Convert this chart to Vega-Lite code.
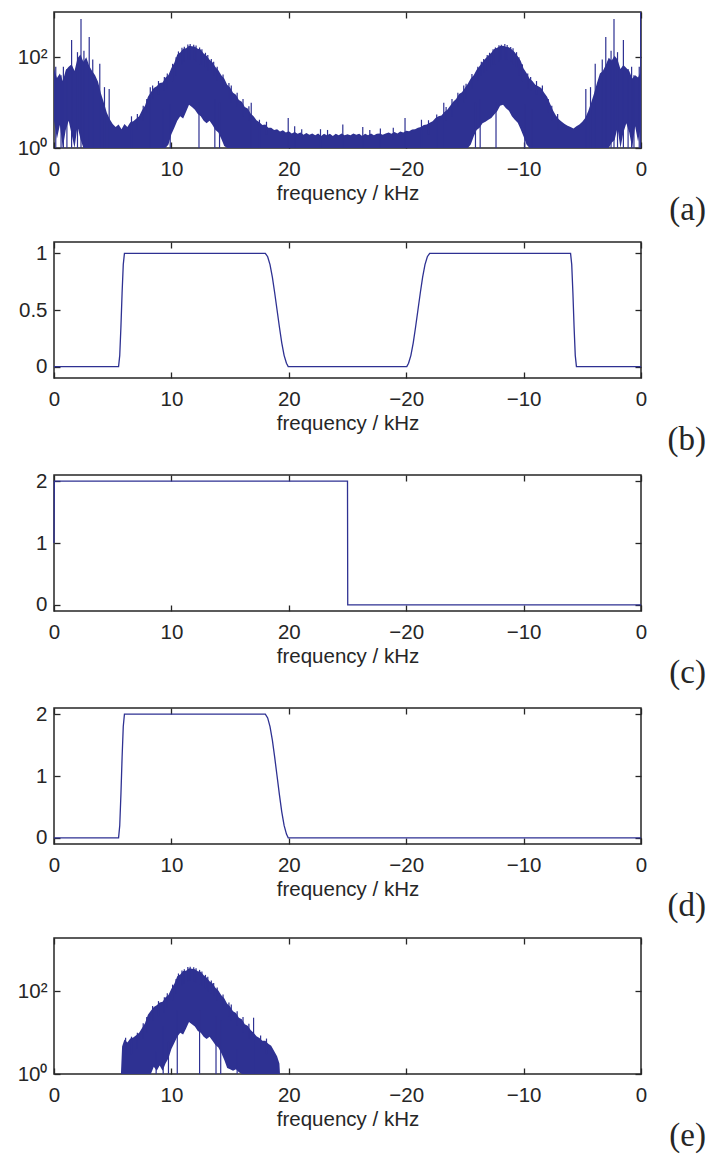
{
  "$schema": "https://vega.github.io/schema/vega-lite/v6.json",
  "padding": {"left": 16, "top": 10, "right": 4, "bottom": 4},
  "spacing": 12,
  "config": {
    "font": "Liberation Sans",
    "view": {"stroke": "#262626", "strokeWidth": 1.5},
    "axis": {"labelFont": "Liberation Sans", "labelFontSize": 20.5, "labelColor": "#262626", "titleFont": "Liberation Sans", "titleFontSize": 20.5, "titleFontWeight": "normal", "titleColor": "#262626", "tickColor": "#262626", "tickSize": -6, "tickWidth": 1.3, "domain": false, "grid": false, "labelPadding": 13},
    "axisX": {"labelPadding": 17, "titlePadding": 4, "labelFlush": false, "labelOverlap": false},
    "title": {"font": "Liberation Serif", "fontSize": 33, "fontWeight": "normal", "color": "#262626", "orient": "bottom", "anchor": "end", "frame": "group", "dx": 65, "offset": -10}
  },
  "datasets": {
    "specA": [
      {"f":0,"h":56,"l":4},{"f":0.25,"h":35,"l":1.6},{"f":0.5,"h":44,"l":3.2},{"f":0.75,"h":30,"l":1},{"f":1,"h":52,"l":2.5},{"f":1.25,"h":62,"l":4},{"f":1.5,"h":70,"l":2},{"f":1.75,"h":50,"l":1},{"f":2,"h":95,"l":3},{"f":2.25,"h":115,"l":1.6},{"f":2.5,"h":80,"l":1},{"f":2.75,"h":100,"l":1},{"f":3,"h":64,"l":1},{"f":3.25,"h":50,"l":1},{"f":3.5,"h":40,"l":1},{"f":3.75,"h":29,"l":1},{"f":4,"h":16,"l":1},{"f":4.25,"h":10,"l":1},{"f":4.5,"h":6,"l":1},{"f":4.75,"h":4.3,"l":1},
      {"f":5,"h":3.4,"l":1},{"f":5.25,"h":2.9,"l":1},{"f":5.5,"h":3.3,"l":1},{"f":5.75,"h":2.6,"l":1},{"f":6,"h":3.4,"l":1},{"f":6.25,"h":2.9,"l":1},{"f":6.5,"h":3.7,"l":1},{"f":6.75,"h":3.9,"l":1},{"f":7,"h":4.4,"l":1},{"f":7.25,"h":5,"l":1},{"f":7.5,"h":6.8,"l":1},{"f":7.75,"h":8.6,"l":1},{"f":8,"h":13.5,"l":1},{"f":8.25,"h":17,"l":1},{"f":8.5,"h":21,"l":1},{"f":8.75,"h":23,"l":1},{"f":9,"h":27,"l":1},{"f":9.25,"h":28,"l":1},{"f":9.5,"h":36,"l":1},{"f":9.75,"h":41,"l":1.2},
      {"f":10,"h":58,"l":2},{"f":10.25,"h":76,"l":2.8},{"f":10.5,"h":115,"l":4},{"f":10.75,"h":128,"l":5},{"f":11,"h":155,"l":4.5},{"f":11.25,"h":158,"l":6.3},{"f":11.5,"h":180,"l":9},{"f":11.75,"h":176,"l":8},{"f":12,"h":172,"l":7},{"f":12.25,"h":154,"l":5.6},{"f":12.5,"h":148,"l":5},{"f":12.75,"h":122,"l":4},{"f":13,"h":108,"l":3.5},{"f":13.25,"h":88,"l":4},{"f":13.5,"h":78,"l":3.2},{"f":13.75,"h":61,"l":2.5},{"f":14,"h":52,"l":2.2},{"f":14.25,"h":40,"l":1.6},{"f":14.5,"h":34,"l":1.1},{"f":14.75,"h":25,"l":1},
      {"f":15,"h":21.5,"l":1},{"f":15.25,"h":16.5,"l":1},{"f":15.5,"h":15,"l":1},{"f":15.75,"h":11.5,"l":1},{"f":16,"h":10.5,"l":1},{"f":16.25,"h":8,"l":1},{"f":16.5,"h":7.4,"l":1},{"f":16.75,"h":5.8,"l":1},{"f":17,"h":5,"l":1},{"f":17.25,"h":4.1,"l":1},{"f":17.5,"h":3.7,"l":1},{"f":17.75,"h":3.2,"l":1},{"f":18,"h":3.3,"l":1},{"f":18.25,"h":2.8,"l":1},{"f":18.5,"h":2.8,"l":1},{"f":18.75,"h":2.5,"l":1},{"f":19,"h":2.6,"l":1},{"f":19.25,"h":2.3,"l":1},{"f":19.5,"h":2.45,"l":1},{"f":19.75,"h":2.2,"l":1},
      {"f":20,"h":2.35,"l":1},{"f":20.25,"h":2.1,"l":1},{"f":20.5,"h":2.25,"l":1},{"f":20.75,"h":2.05,"l":1},{"f":21,"h":2.2,"l":1},{"f":21.25,"h":1.95,"l":1},{"f":21.5,"h":2.15,"l":1},{"f":21.75,"h":1.95,"l":1},{"f":22,"h":2.1,"l":1},{"f":22.25,"h":1.9,"l":1},{"f":22.5,"h":2.1,"l":1},{"f":22.75,"h":1.85,"l":1},{"f":23,"h":2.05,"l":1},{"f":23.25,"h":1.9,"l":1},{"f":23.5,"h":2.05,"l":1},{"f":23.75,"h":1.85,"l":1},{"f":24,"h":2.05,"l":1},{"f":24.25,"h":1.9,"l":1},{"f":24.5,"h":2.1,"l":1},{"f":24.75,"h":1.9,"l":1},
      {"f":25,"h":2,"l":1},{"f":25.25,"h":1.9,"l":1},{"f":25.5,"h":2.1,"l":1},{"f":25.75,"h":1.95,"l":1},{"f":26,"h":2.05,"l":1},{"f":26.25,"h":1.85,"l":1},{"f":26.5,"h":2.05,"l":1},{"f":26.75,"h":1.9,"l":1},{"f":27,"h":2.1,"l":1},{"f":27.25,"h":1.9,"l":1},{"f":27.5,"h":2.05,"l":1},{"f":27.75,"h":2.1,"l":1},{"f":28,"h":1.95,"l":1},{"f":28.25,"h":2.1,"l":1},{"f":28.5,"h":2.2,"l":1},{"f":28.75,"h":2.05,"l":1},{"f":29,"h":2.25,"l":1},{"f":29.25,"h":2.1,"l":1},{"f":29.5,"h":2.3,"l":1},{"f":29.75,"h":2.2,"l":1},
      {"f":30,"h":2.4,"l":1},{"f":30.25,"h":2.35,"l":1},{"f":30.5,"h":2.55,"l":1},{"f":30.75,"h":2.6,"l":1},{"f":31,"h":2.8,"l":1},{"f":31.25,"h":2.9,"l":1},{"f":31.5,"h":3.2,"l":1},{"f":31.75,"h":3.3,"l":1},{"f":32,"h":3.6,"l":1},{"f":32.25,"h":3.9,"l":1},{"f":32.5,"h":4.6,"l":1},{"f":32.75,"h":5,"l":1},{"f":33,"h":5.2,"l":1},{"f":33.25,"h":6.2,"l":1},{"f":33.5,"h":7,"l":1},{"f":33.75,"h":8.6,"l":1},{"f":34,"h":10.5,"l":1},{"f":34.25,"h":12,"l":1},{"f":34.5,"h":15.5,"l":1},{"f":34.75,"h":17,"l":1},
      {"f":35,"h":21,"l":1},{"f":35.25,"h":26,"l":1},{"f":35.5,"h":34,"l":1.2},{"f":35.75,"h":40,"l":1.8},{"f":36,"h":53,"l":2.5},{"f":36.25,"h":64,"l":2.8},{"f":36.5,"h":79,"l":3.5},{"f":36.75,"h":94,"l":3.8},{"f":37,"h":110,"l":4.2},{"f":37.25,"h":126,"l":4.6},{"f":37.5,"h":152,"l":5.5},{"f":37.75,"h":162,"l":6.5},{"f":38,"h":178,"l":8.5},{"f":38.25,"h":180,"l":9},{"f":38.5,"h":172,"l":7.5},{"f":38.75,"h":166,"l":6.6},{"f":39,"h":148,"l":5},{"f":39.25,"h":130,"l":4.2},{"f":39.5,"h":106,"l":3.6},{"f":39.75,"h":84,"l":2.6},
      {"f":40,"h":57,"l":1.8},{"f":40.25,"h":45,"l":1.2},{"f":40.5,"h":34,"l":1},{"f":40.75,"h":30,"l":1},{"f":41,"h":25,"l":1},{"f":41.25,"h":23,"l":1},{"f":41.5,"h":21,"l":1},{"f":41.75,"h":16.5,"l":1},{"f":42,"h":13.5,"l":1},{"f":42.25,"h":9.6,"l":1},{"f":42.5,"h":6.8,"l":1},{"f":42.75,"h":5.2,"l":1},{"f":43,"h":4.3,"l":1},{"f":43.25,"h":3.8,"l":1},{"f":43.5,"h":3.4,"l":1},{"f":43.75,"h":3.1,"l":1},{"f":44,"h":2.9,"l":1},{"f":44.25,"h":2.7,"l":1},{"f":44.5,"h":3,"l":1},{"f":44.75,"h":3.3,"l":1},
      {"f":45,"h":3.8,"l":1},{"f":45.25,"h":4.6,"l":1},{"f":45.5,"h":6.5,"l":1},{"f":45.75,"h":10,"l":1},{"f":46,"h":16,"l":1},{"f":46.25,"h":27,"l":1},{"f":46.5,"h":44,"l":1},{"f":46.75,"h":50,"l":1},{"f":47,"h":68,"l":1},{"f":47.25,"h":98,"l":1},{"f":47.5,"h":85,"l":1.3},{"f":47.75,"h":108,"l":1.5},{"f":48,"h":90,"l":2.8},{"f":48.25,"h":55,"l":1},{"f":48.5,"h":68,"l":2.2},{"f":48.75,"h":58,"l":3.5},{"f":49,"h":50,"l":2.2},{"f":49.25,"h":34,"l":1},{"f":49.5,"h":40,"l":3},{"f":49.75,"h":36,"l":1.4},{"f":50,"h":50,"l":3}
    ],
    "spikesA": [
      {"f":0.15,"t":62,"b":1},{"f":0.6,"t":40,"b":1},{"f":0.8,"t":62,"b":1},{"f":1.1,"t":55,"b":1},{"f":1.5,"t":240,"b":1},{"f":2.0,"t":130,"b":1},{"f":2.3,"t":700,"b":1},{"f":2.55,"t":140,"b":1},{"f":3.0,"t":280,"b":1},{"f":3.3,"t":90,"b":1},{"f":3.9,"t":72,"b":1},{"f":4.3,"t":22,"b":1},{"f":4.7,"t":20,"b":1},{"f":6.6,"t":5,"b":1},{"f":8.2,"t":22,"b":1},{"f":9.3,"t":7,"b":1},{"f":9.9,"t":9,"b":1},{"f":12.35,"t":10,"b":1},{"f":13.7,"t":12,"b":1},{"f":14.1,"t":10,"b":1},{"f":16.8,"t":10,"b":1},{"f":17.5,"t":4.2,"b":1},{"f":19.95,"t":4.6,"b":1},{"f":20.5,"t":3,"b":1},{"f":22.7,"t":2.6,"b":1},{"f":24.6,"t":3.3,"b":1},{"f":26.3,"t":2.9,"b":1},{"f":27.8,"t":2.7,"b":1},{"f":29.9,"t":4.6,"b":1},{"f":31.3,"t":4.2,"b":1},{"f":32.6,"t":5.5,"b":1},{"f":33.2,"t":10,"b":1},{"f":35.9,"t":10,"b":1},{"f":36.3,"t":12,"b":1},{"f":37.65,"t":10,"b":1},{"f":40.1,"t":9,"b":1},{"f":40.7,"t":7,"b":1},{"f":45.3,"t":20,"b":1},{"f":45.7,"t":22,"b":1},{"f":46.1,"t":72,"b":1},{"f":46.7,"t":90,"b":1},{"f":47.0,"t":280,"b":1},{"f":47.45,"t":140,"b":1},{"f":47.7,"t":700,"b":1},{"f":48.0,"t":130,"b":1},{"f":48.5,"t":240,"b":1},{"f":48.9,"t":55,"b":1},{"f":49.2,"t":62,"b":1},{"f":49.4,"t":40,"b":1},{"f":49.85,"t":62,"b":1},{"f":49.97,"t":1000,"b":1},
      {"f":7.1,"t":5.6,"b":2.5},{"f":7.6,"t":8.5,"b":4},{"f":7.9,"t":12,"b":6},{"f":8.4,"t":24,"b":12},{"f":8.9,"t":30,"b":15},{"f":9.4,"t":37,"b":18},{"f":9.65,"t":44,"b":20},{"f":10.1,"t":72,"b":30},{"f":10.4,"t":100,"b":40},{"f":10.6,"t":135,"b":60},{"f":10.9,"t":162,"b":70},{"f":11.1,"t":172,"b":80},{"f":11.4,"t":192,"b":90},{"f":11.6,"t":198,"b":90},{"f":11.9,"t":190,"b":90},{"f":12.1,"t":182,"b":80},{"f":12.4,"t":165,"b":70},{"f":12.6,"t":150,"b":70},{"f":12.9,"t":126,"b":60},{"f":13.1,"t":112,"b":50},{"f":13.4,"t":92,"b":45},{"f":13.6,"t":80,"b":40},{"f":13.9,"t":62,"b":30},{"f":14.4,"t":42,"b":20},{"f":14.9,"t":27,"b":12},{"f":15.1,"t":24,"b":10},{"f":15.6,"t":16.5,"b":8},{"f":16.1,"t":12,"b":5},{"f":16.6,"t":8.3,"b":4},{"f":18.1,"t":3.8,"b":2},{"f":21.1,"t":2.6,"b":1.5},{"f":23.3,"t":2.5,"b":1.5},
      {"f":26.9,"t":2.5,"b":1.5},{"f":28.9,"t":2.8,"b":1.5},{"f":31.9,"t":4.1,"b":2},{"f":33.4,"t":8,"b":4},{"f":33.9,"t":12,"b":5},{"f":34.4,"t":16.5,"b":8},{"f":34.9,"t":24,"b":10},{"f":35.1,"t":26,"b":12},{"f":35.6,"t":43,"b":20},{"f":36.1,"t":62,"b":30},{"f":36.4,"t":80,"b":40},{"f":36.6,"t":92,"b":45},{"f":36.9,"t":112,"b":50},{"f":37.1,"t":126,"b":60},{"f":37.4,"t":150,"b":70},{"f":37.6,"t":165,"b":70},{"f":37.9,"t":185,"b":80},{"f":38.1,"t":190,"b":90},{"f":38.4,"t":196,"b":90},{"f":38.6,"t":186,"b":90},{"f":38.9,"t":168,"b":80},{"f":39.1,"t":158,"b":70},{"f":39.4,"t":130,"b":60},{"f":39.6,"t":100,"b":40},{"f":39.9,"t":70,"b":30},{"f":40.35,"t":44,"b":20},{"f":40.6,"t":37,"b":18},{"f":41.1,"t":30,"b":15},{"f":41.6,"t":24,"b":12},{"f":42.1,"t":12,"b":6},{"f":42.4,"t":8.5,"b":4},{"f":42.9,"t":5.6,"b":2.5}
    ],
    "filterB": [
      {"f":0,"v":0},{"f":5.5,"v":0},{"f":5.6,"v":0.1},{"f":5.7,"v":0.35},{"f":5.8,"v":0.65},{"f":5.9,"v":0.9},{"f":6.0,"v":1},{"f":18.0,"v":1},{"f":18.2,"v":0.97},{"f":18.4,"v":0.9},{"f":18.6,"v":0.79},{"f":18.8,"v":0.65},{"f":19.0,"v":0.5},{"f":19.2,"v":0.35},{"f":19.4,"v":0.21},{"f":19.6,"v":0.1},{"f":19.8,"v":0.03},{"f":19.95,"v":0},
      {"f":30.05,"v":0},{"f":30.2,"v":0.03},{"f":30.4,"v":0.1},{"f":30.6,"v":0.21},{"f":30.8,"v":0.35},{"f":31.0,"v":0.5},{"f":31.2,"v":0.65},{"f":31.4,"v":0.79},{"f":31.6,"v":0.9},{"f":31.8,"v":0.97},{"f":32.0,"v":1},{"f":44.0,"v":1},{"f":44.1,"v":0.9},{"f":44.2,"v":0.65},{"f":44.3,"v":0.35},{"f":44.4,"v":0.1},{"f":44.5,"v":0},{"f":50,"v":0}
    ],
    "stepC": [
      {"f":0,"v":1},{"f":0.03,"v":2},{"f":25,"v":2},{"f":25.02,"v":0},{"f":50,"v":0}
    ],
    "filterD": [
      {"f":0,"v":0},{"f":5.5,"v":0},{"f":5.6,"v":0.2},{"f":5.7,"v":0.7},{"f":5.8,"v":1.3},{"f":5.9,"v":1.8},{"f":6.0,"v":2},{"f":18.0,"v":2},{"f":18.2,"v":1.94},{"f":18.4,"v":1.8},{"f":18.6,"v":1.58},{"f":18.8,"v":1.3},{"f":19.0,"v":1.0},{"f":19.2,"v":0.7},{"f":19.4,"v":0.42},{"f":19.6,"v":0.2},{"f":19.8,"v":0.06},{"f":19.95,"v":0},{"f":50,"v":0}
    ],
    "specE": [
      {"f":5.7,"h":1,"l":1},{"f":5.8,"h":4.6,"l":1},{"f":6,"h":6.8,"l":1},{"f":6.25,"h":5.8,"l":1},{"f":6.5,"h":7.2,"l":1},{"f":6.75,"h":7.6,"l":1},{"f":7,"h":8.6,"l":1},{"f":7.25,"h":10,"l":1},{"f":7.5,"h":13,"l":1},{"f":7.75,"h":17,"l":1},{"f":8,"h":27,"l":1},{"f":8.25,"h":34,"l":1},{"f":8.5,"h":42,"l":1.5},{"f":8.75,"h":46,"l":1.2},{"f":9,"h":54,"l":1.6},{"f":9.25,"h":56,"l":1.2},{"f":9.5,"h":72,"l":1.8},{"f":9.75,"h":82,"l":2.4},
      {"f":10,"h":116,"l":4},{"f":10.25,"h":152,"l":5.6},{"f":10.5,"h":230,"l":8},{"f":10.75,"h":256,"l":10},{"f":11,"h":310,"l":9},{"f":11.25,"h":316,"l":12.6},{"f":11.5,"h":360,"l":18},{"f":11.75,"h":352,"l":16},{"f":12,"h":344,"l":14},{"f":12.25,"h":308,"l":11},{"f":12.5,"h":296,"l":10},{"f":12.75,"h":244,"l":8},{"f":13,"h":216,"l":7},{"f":13.25,"h":176,"l":8},{"f":13.5,"h":156,"l":6.4},{"f":13.75,"h":122,"l":5},{"f":14,"h":104,"l":4.4},{"f":14.25,"h":80,"l":3.2},{"f":14.5,"h":68,"l":2.2},{"f":14.75,"h":50,"l":1.4},
      {"f":15,"h":43,"l":1.3},{"f":15.25,"h":33,"l":1.2},{"f":15.5,"h":30,"l":1.3},{"f":15.75,"h":23,"l":1.1},{"f":16,"h":21,"l":1},{"f":16.25,"h":16,"l":1},{"f":16.5,"h":14.8,"l":1},{"f":16.75,"h":11.6,"l":1},{"f":17,"h":10,"l":1},{"f":17.25,"h":8.2,"l":1},{"f":17.5,"h":7.4,"l":1},{"f":17.75,"h":6.4,"l":1},{"f":18,"h":6.4,"l":1},{"f":18.25,"h":5.4,"l":1},{"f":18.5,"h":4.8,"l":1},{"f":18.75,"h":3.6,"l":1},{"f":19,"h":2.7,"l":1},{"f":19.2,"h":1.8,"l":1},{"f":19.25,"h":1,"l":1}
    ],
    "spikesE": [
      {"f":8.7,"t":3.5,"b":1},{"f":9.3,"t":14,"b":1},{"f":9.75,"t":6,"b":1},{"f":10.5,"t":35,"b":1},{"f":12.4,"t":35,"b":1},{"f":13.8,"t":25,"b":1},{"f":14.2,"t":20,"b":1},{"f":15.6,"t":4,"b":1},{"f":17.0,"t":23,"b":1},
      {"f":6.1,"t":7.5,"b":3},{"f":6.6,"t":8,"b":3},{"f":7.1,"t":10,"b":4},{"f":7.6,"t":17,"b":7},{"f":7.9,"t":24,"b":10},{"f":8.4,"t":44,"b":20},{"f":8.9,"t":58,"b":25},{"f":9.4,"t":72,"b":30},{"f":9.65,"t":90,"b":40},{"f":10.1,"t":145,"b":60},{"f":10.4,"t":200,"b":90},{"f":10.6,"t":270,"b":120},{"f":10.9,"t":320,"b":140},{"f":11.1,"t":340,"b":150},{"f":11.4,"t":385,"b":170},{"f":11.6,"t":395,"b":180},{"f":11.9,"t":380,"b":170},{"f":12.1,"t":360,"b":160},{"f":12.4,"t":330,"b":150},{"f":12.6,"t":300,"b":140},{"f":12.9,"t":250,"b":120},{"f":13.1,"t":224,"b":100},{"f":13.4,"t":184,"b":90},{"f":13.6,"t":160,"b":80},{"f":13.9,"t":124,"b":60},{"f":14.4,"t":84,"b":40},{"f":14.9,"t":54,"b":25},{"f":15.1,"t":48,"b":20},{"f":15.6,"t":33,"b":15},{"f":16.1,"t":24,"b":10},{"f":16.6,"t":16.5,"b":7},{"f":17.6,"t":8.5,"b":4},{"f":18.1,"t":7.2,"b":3}
    ]
  },
  "vconcat": [
    {
      "width": 587, "height": 136,
      "title": {"text": "(a)"},
      "layer": [
        {"data": {"name": "specA"}, "mark": {"type": "area", "color": "#2e3192", "clip": true},
         "encoding": {
           "x": {"field": "f", "type": "quantitative", "scale": {"domain": [0, 50], "nice": false}, "axis": {"orient": "bottom", "values": [0,10,20,30,40,50], "labelExpr": "datum.value == 50 ? '0' : datum.value > 25 ? '−' + (50 - datum.value) : '' + datum.value", "title": "frequency / kHz"}},
           "y": {"field": "h", "type": "quantitative", "scale": {"type": "log", "domain": [1, 1000], "nice": false}, "axis": {"orient": "left", "values": [1, 100], "labelExpr": "datum.value == 1 ? '10⁰' : '10²'", "title": null}},
           "y2": {"field": "l"}}},
        {"data": {"name": "spikesA"}, "mark": {"type": "rule", "color": "#2e3192", "strokeWidth": 1.2, "clip": true},
         "encoding": {
           "x": {"field": "f", "type": "quantitative", "axis": null},
           "y": {"field": "t", "type": "quantitative", "axis": null},
           "y2": {"field": "b"}}},
        {"data": {"name": "spikesA"}, "mark": {"type": "rule", "opacity": 0},
         "encoding": {
           "x": {"field": "f", "type": "quantitative", "axis": {"orient": "top", "values": [0,10,20,30,40,50], "labels": false, "title": null}},
           "y": {"field": "t", "type": "quantitative", "axis": {"orient": "right", "values": [1, 100], "labels": false, "title": null}}}}
      ],
      "resolve": {"axis": {"x": "independent", "y": "independent"}}
    },
    {
      "width": 587, "height": 136,
      "title": {"text": "(b)"},
      "data": {"name": "filterB"},
      "layer": [
        {"mark": {"type": "line", "color": "#2e3192", "strokeWidth": 1.3},
         "encoding": {
           "x": {"field": "f", "type": "quantitative", "scale": {"domain": [0, 50], "nice": false}, "axis": {"orient": "bottom", "values": [0,10,20,30,40,50], "labelExpr": "datum.value == 50 ? '0' : datum.value > 25 ? '−' + (50 - datum.value) : '' + datum.value", "title": "frequency / kHz"}},
           "y": {"field": "v", "type": "quantitative", "scale": {"domain": [-0.1, 1.1], "nice": false, "zero": false}, "axis": {"orient": "left", "values": [0, 0.5, 1], "labelExpr": "'' + datum.value", "title": null}}}},
        {"mark": {"type": "line", "opacity": 0},
         "encoding": {
           "x": {"field": "f", "type": "quantitative", "axis": {"orient": "top", "values": [0,10,20,30,40,50], "labels": false, "title": null}},
           "y": {"field": "v", "type": "quantitative", "axis": {"orient": "right", "values": [0, 0.5, 1], "labels": false, "title": null}}}}
      ],
      "resolve": {"axis": {"x": "independent", "y": "independent"}}
    },
    {
      "width": 587, "height": 136,
      "title": {"text": "(c)"},
      "data": {"name": "stepC"},
      "layer": [
        {"mark": {"type": "line", "color": "#2e3192", "strokeWidth": 1.3},
         "encoding": {
           "x": {"field": "f", "type": "quantitative", "scale": {"domain": [0, 50], "nice": false}, "axis": {"orient": "bottom", "values": [0,10,20,30,40,50], "labelExpr": "datum.value == 50 ? '0' : datum.value > 25 ? '−' + (50 - datum.value) : '' + datum.value", "title": "frequency / kHz"}},
           "y": {"field": "v", "type": "quantitative", "scale": {"domain": [-0.1, 2.1], "nice": false, "zero": false}, "axis": {"orient": "left", "values": [0, 1, 2], "labelExpr": "'' + datum.value", "title": null}}}},
        {"mark": {"type": "line", "opacity": 0},
         "encoding": {
           "x": {"field": "f", "type": "quantitative", "axis": {"orient": "top", "values": [0,10,20,30,40,50], "labels": false, "title": null}},
           "y": {"field": "v", "type": "quantitative", "axis": {"orient": "right", "values": [0, 1, 2], "labels": false, "title": null}}}}
      ],
      "resolve": {"axis": {"x": "independent", "y": "independent"}}
    },
    {
      "width": 587, "height": 136,
      "title": {"text": "(d)"},
      "data": {"name": "filterD"},
      "layer": [
        {"mark": {"type": "line", "color": "#2e3192", "strokeWidth": 1.3},
         "encoding": {
           "x": {"field": "f", "type": "quantitative", "scale": {"domain": [0, 50], "nice": false}, "axis": {"orient": "bottom", "values": [0,10,20,30,40,50], "labelExpr": "datum.value == 50 ? '0' : datum.value > 25 ? '−' + (50 - datum.value) : '' + datum.value", "title": "frequency / kHz"}},
           "y": {"field": "v", "type": "quantitative", "scale": {"domain": [-0.1, 2.1], "nice": false, "zero": false}, "axis": {"orient": "left", "values": [0, 1, 2], "labelExpr": "'' + datum.value", "title": null}}}},
        {"mark": {"type": "line", "opacity": 0},
         "encoding": {
           "x": {"field": "f", "type": "quantitative", "axis": {"orient": "top", "values": [0,10,20,30,40,50], "labels": false, "title": null}},
           "y": {"field": "v", "type": "quantitative", "axis": {"orient": "right", "values": [0, 1, 2], "labels": false, "title": null}}}}
      ],
      "resolve": {"axis": {"x": "independent", "y": "independent"}}
    },
    {
      "width": 587, "height": 136,
      "title": {"text": "(e)"},
      "layer": [
        {"data": {"name": "specE"}, "mark": {"type": "area", "color": "#2e3192", "clip": true},
         "encoding": {
           "x": {"field": "f", "type": "quantitative", "scale": {"domain": [0, 50], "nice": false}, "axis": {"orient": "bottom", "values": [0,10,20,30,40,50], "labelExpr": "datum.value == 50 ? '0' : datum.value > 25 ? '−' + (50 - datum.value) : '' + datum.value", "title": "frequency / kHz"}},
           "y": {"field": "h", "type": "quantitative", "scale": {"type": "log", "domain": [1, 1950], "nice": false}, "axis": {"orient": "left", "values": [1, 100], "labelExpr": "datum.value == 1 ? '10⁰' : '10²'", "title": null}},
           "y2": {"field": "l"}}},
        {"data": {"name": "spikesE"}, "mark": {"type": "rule", "color": "#2e3192", "strokeWidth": 1.2, "clip": true},
         "encoding": {
           "x": {"field": "f", "type": "quantitative", "axis": null},
           "y": {"field": "t", "type": "quantitative", "axis": null},
           "y2": {"field": "b"}}},
        {"data": {"name": "spikesE"}, "mark": {"type": "rule", "opacity": 0},
         "encoding": {
           "x": {"field": "f", "type": "quantitative", "axis": {"orient": "top", "values": [0,10,20,30,40,50], "labels": false, "title": null}},
           "y": {"field": "t", "type": "quantitative", "axis": {"orient": "right", "values": [1, 100], "labels": false, "title": null}}}}
      ],
      "resolve": {"axis": {"x": "independent", "y": "independent"}}
    }
  ]
}
